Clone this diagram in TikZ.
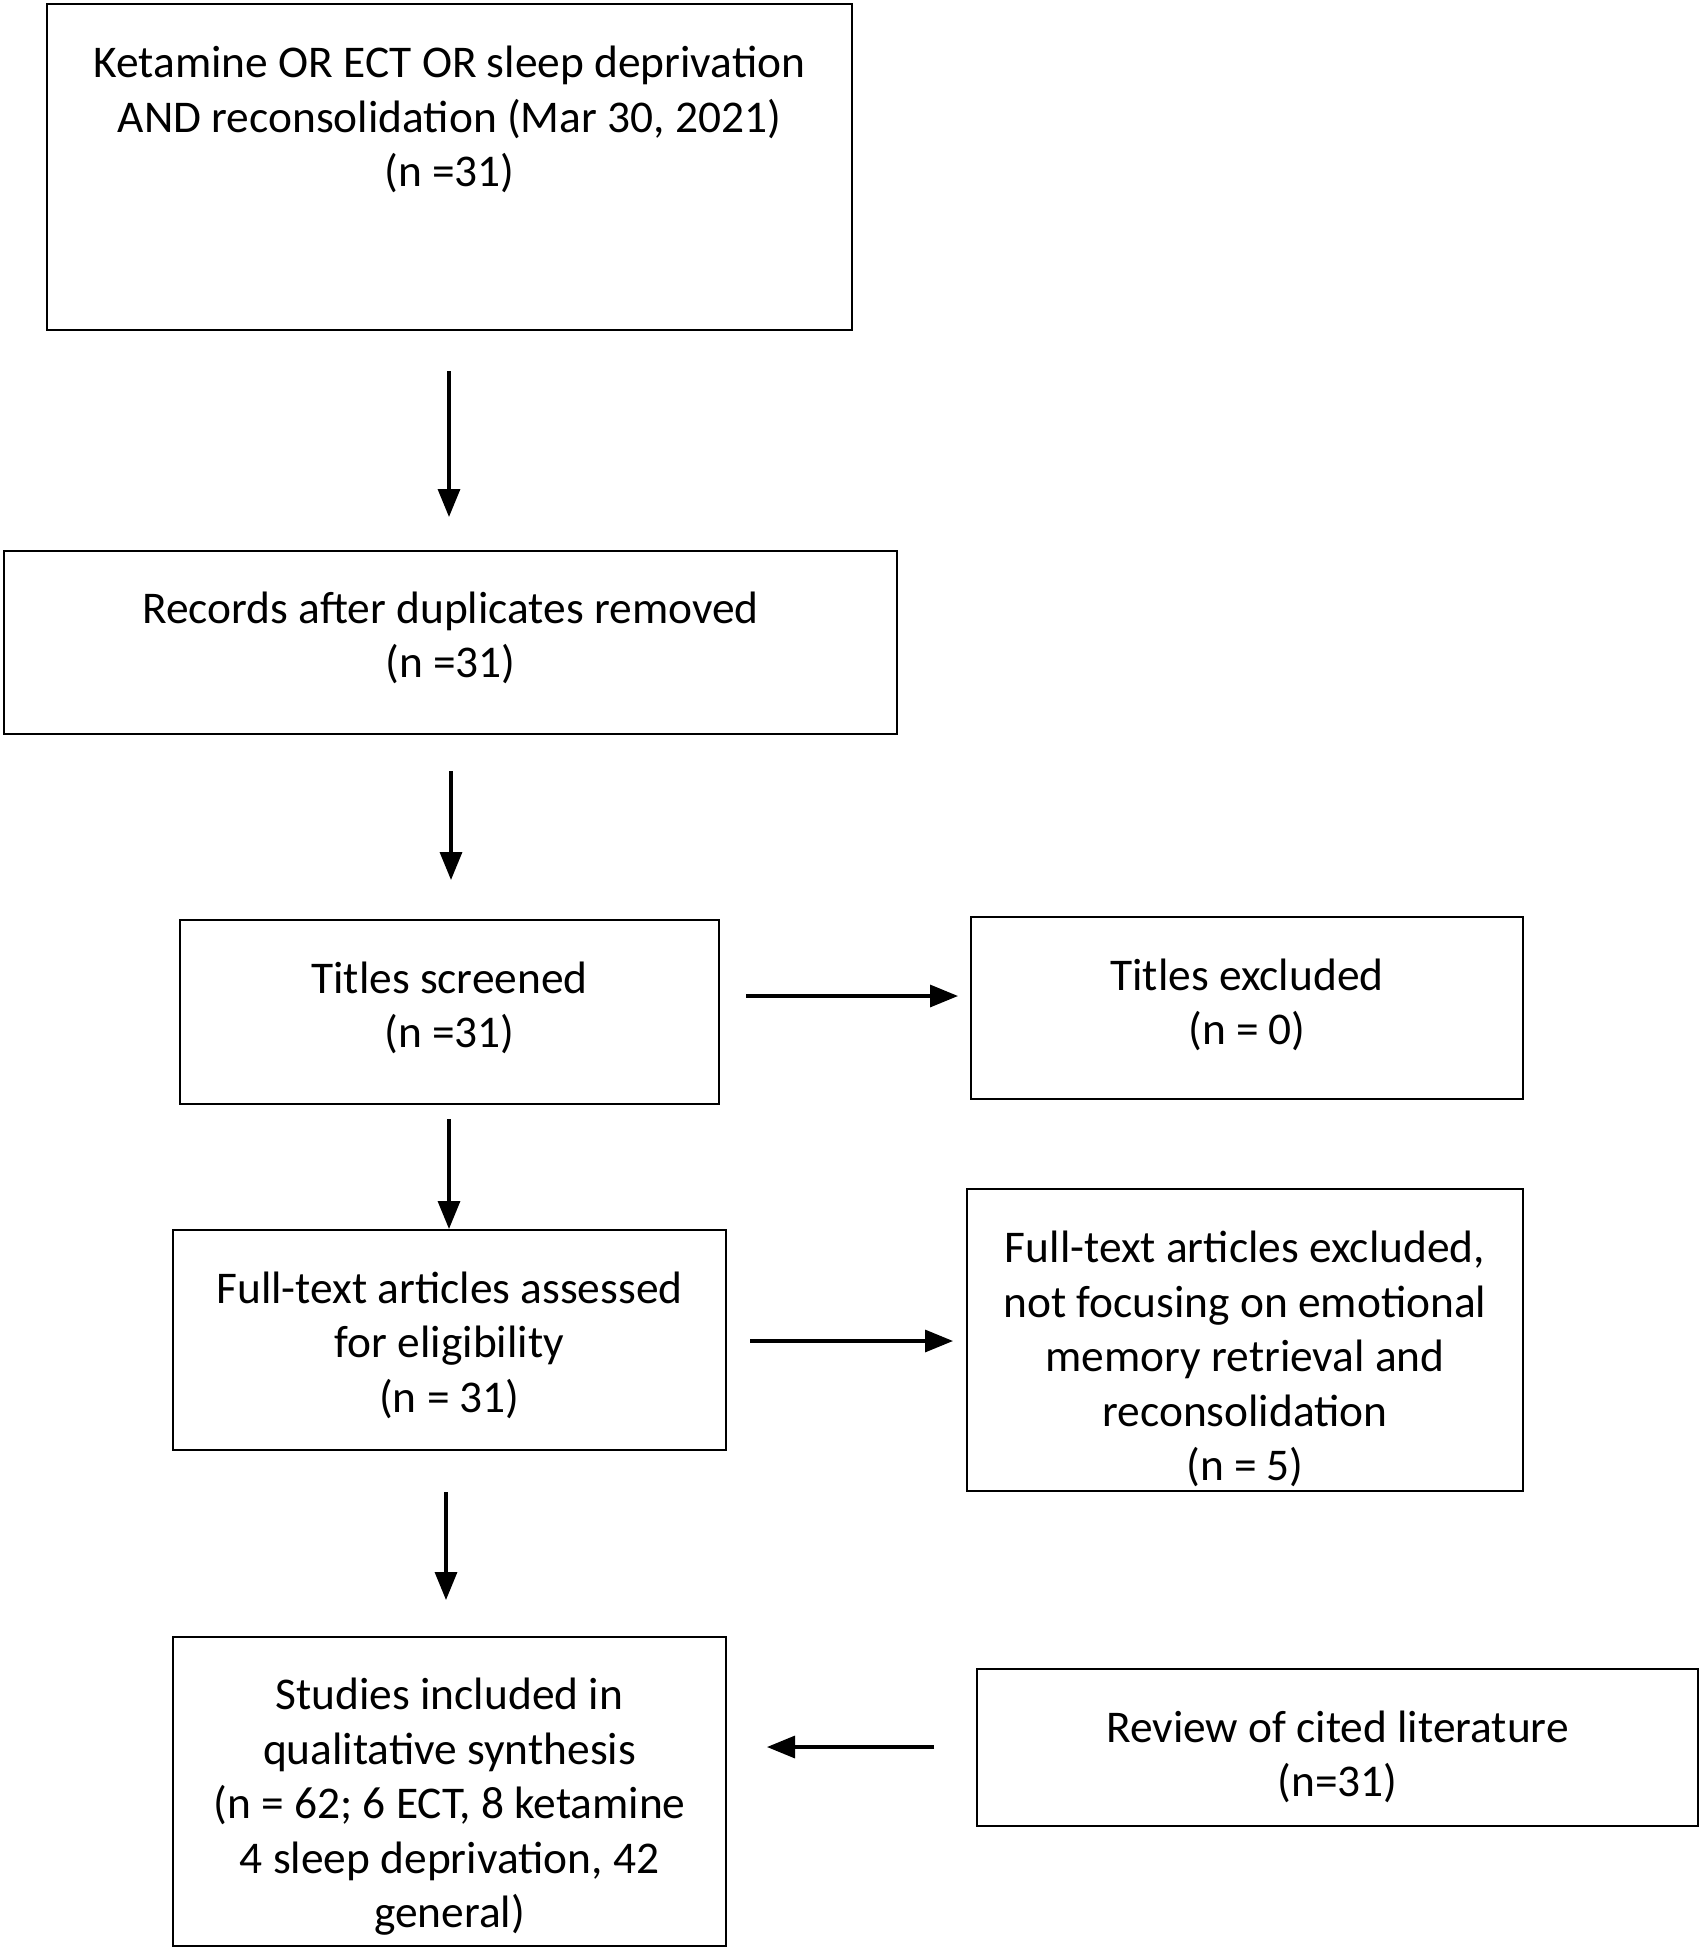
\documentclass[tikz,border=0pt]{standalone}
\usepackage{fontspec}
\setmainfont{Carlito}
\usetikzlibrary{arrows.meta}
\begin{document}
\begin{tikzpicture}[x=1pt,y=-1pt,
  box/.style={draw=black, line width=2.8pt, inner sep=0pt},
  txt/.style={align=center, font=\fontsize{45.4}{54.5}\selectfont, inner sep=0pt},
  arr/.style={line width=3.3pt, -{Triangle[length=28pt,width=22pt]}}]
\useasboundingbox (0,0) rectangle (1700,1950);
% boxes
\node[box, minimum width=805pt, minimum height=326pt] (b1) at (449.5,167) {};
\node[txt, anchor=north] (t1) at (449.5,46) {Ketamine OR ECT OR sleep deprivation\\AND reconsolidation (Mar 30, 2021)\\(n =31)};
\node[box, minimum width=893pt, minimum height=183pt] (b2) at (450.5,642.5) {};
\node[txt] (t2) at (450.5,638) {Records after duplicates removed\\(n =31)};
\node[box, minimum width=539pt, minimum height=184pt] (b3) at (449.5,1012) {};
\node[txt] (t3) at (449.5,1008) {Titles screened\\(n =31)};
\node[box, minimum width=552pt, minimum height=182pt] (b4) at (1247,1008) {};
\node[txt] (t4) at (1247,1005) {Titles excluded\\(n = 0)};
\node[box, minimum width=553pt, minimum height=220pt] (b5) at (449.5,1340) {};
\node[txt] (t5) at (449.5,1345) {Full-text articles assessed\\for eligibility\\(n = 31)};
\node[box, minimum width=556pt, minimum height=302pt] (b6) at (1245,1340) {};
\node[txt] (t6) at (1245,1359) {Full-text articles excluded,\\not focusing on emotional\\memory retrieval and\\reconsolidation\\(n = 5)};
\node[box, minimum width=553pt, minimum height=309pt] (b7) at (449.5,1791.5) {};
\node[txt] (t7) at (449.5,1807) {Studies included in\\qualitative synthesis\\(n = 62; 6 ECT, 8 ketamine\\4 sleep deprivation, 42\\general)};
\node[box, minimum width=721pt, minimum height=157pt] (b8) at (1337.5,1747.5) {};
\node[txt] (t8) at (1337.5,1757) {Review of cited literature\\(n=31)};
% connector ends
\coordinate (a1s) at (449,371);  \coordinate (a1e) at (449,517);
\coordinate (a2s) at (451,771);  \coordinate (a2e) at (451,880);
\coordinate (a3s) at (746,996);  \coordinate (a3e) at (958,996);
\coordinate (a4s) at (449,1119); \coordinate (a4e) at (449,1229);
\coordinate (a5s) at (750,1341); \coordinate (a5e) at (953,1341);
\coordinate (a6s) at (446,1492); \coordinate (a6e) at (446,1600);
\coordinate (a7s) at (934,1747); \coordinate (a7e) at (767,1747);
\draw[arr] (a1s) -- (a1e);
\draw[arr] (a2s) -- (a2e);
\draw[arr] (a3s) -- (a3e);
\draw[arr] (a4s) -- (a4e);
\draw[arr] (a5s) -- (a5e);
\draw[arr] (a6s) -- (a6e);
\draw[arr] (a7s) -- (a7e);
\end{tikzpicture}
\end{document}
